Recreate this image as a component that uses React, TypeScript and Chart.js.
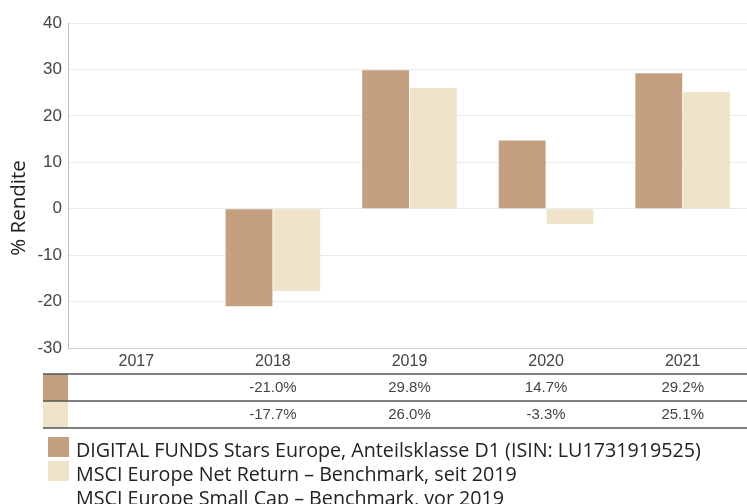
import React, { useEffect, useRef } from "react";
import { Chart, registerables } from "chart.js";

Chart.register(...registerables);

const categories = ["2017", "2018", "2019", "2020", "2021"];
const fundValues: (number | null)[] = [null, -21.0, 29.8, 14.7, 29.2];
const benchValues: (number | null)[] = [null, -17.7, 26.0, -3.3, 25.1];
const fundLabels = ["", "-21.0%", "29.8%", "14.7%", "29.2%"];
const benchLabels = ["", "-17.7%", "26.0%", "-3.3%", "25.1%"];
const yTicks = [40, 30, 20, 10, 0, -10, -20, -30];
const legendLines = [
  "DIGITAL FUNDS Stars Europe, Anteilsklasse D1 (ISIN: LU1731919525)",
  "MSCI Europe Net Return – Benchmark, seit 2019",
  "MSCI Europe Small Cap – Benchmark, vor 2019",
];
const yTitle = "% Rendite";

const FUND_COLOR = "#c4a080";
const BENCH_COLOR = "#efe3c9";

export default function App() {
  const ref = useRef<HTMLCanvasElement>(null);
  useEffect(() => {
    if (!ref.current) return;
    const extras = {
      id: "extras",
      afterDraw(chart: any) {
        const ctx = chart.ctx;
        const xs = chart.scales.x;
        ctx.save();
        // y title
        ctx.fillStyle = "#222";
        ctx.font = "20.5px 'Open Sans'";
        ctx.textAlign = "center";
        ctx.textBaseline = "alphabetic";
        ctx.translate(25, 208);
        ctx.rotate(-Math.PI / 2);
        ctx.fillText(yTitle, 0, 0);
        ctx.restore();

        ctx.save();
        // table
        const left = 43;
        const right = 751;
        const lines = [374, 401, 428];
        ctx.fillStyle = FUND_COLOR;
        ctx.fillRect(left, lines[0], 25, lines[1] - lines[0]);
        ctx.fillStyle = BENCH_COLOR;
        ctx.fillRect(left, lines[1], 25, lines[2] - lines[1]);
        ctx.strokeStyle = "#555";
        ctx.lineWidth = 1.6;
        for (const y of lines) {
          ctx.beginPath();
          ctx.moveTo(left, y);
          ctx.lineTo(right, y);
          ctx.stroke();
        }
        ctx.fillStyle = "#444";
        ctx.font = "15px 'Liberation Sans', Arial";
        ctx.textAlign = "center";
        ctx.textBaseline = "middle";
        categories.forEach((_, i) => {
          const x = xs.getPixelForValue(i);
          ctx.fillText(fundLabels[i], x, 388);
          ctx.fillText(benchLabels[i], x, 415);
        });

        // legend
        ctx.fillStyle = FUND_COLOR;
        ctx.fillRect(48, 437, 21, 20);
        ctx.fillStyle = BENCH_COLOR;
        ctx.fillRect(48, 461, 21, 20);
        ctx.fillStyle = "#222";
        ctx.font = "19.7px 'Open Sans'";
        ctx.textAlign = "left";
        ctx.textBaseline = "alphabetic";
        ctx.fillText(legendLines[0], 76, 457);
        ctx.fillText(legendLines[1], 76, 481);
        ctx.fillText(legendLines[2], 76, 504.5);
        ctx.restore();
      },
    };
    const chart = new Chart(ref.current, {
      type: "bar",
      data: {
        labels: categories,
        datasets: [
          {
            label: legendLines[0],
            data: fundValues,
            backgroundColor: FUND_COLOR,
            categoryPercentage: 0.7,
            barPercentage: 0.98,
          },
          {
            label: legendLines[1],
            data: benchValues,
            backgroundColor: BENCH_COLOR,
            categoryPercentage: 0.7,
            barPercentage: 0.98,
          },
        ],
      },
      options: {
        responsive: false,
        animation: false,
        layout: { padding: { top: 23, right: 0, bottom: 130, left: 0 } },
        plugins: { legend: { display: false }, tooltip: { enabled: false } },
        scales: {
          x: {
            grid: { display: false, drawTicks: false },
            border: { display: true, color: "#cfcfcf", width: 1 },
            ticks: {
              color: "#444",
              font: { family: "'Liberation Sans', Arial", size: 16 },
              padding: 4,
              maxRotation: 0,
            },
            afterFit: (s: any) => {
              s.height = 26;
            },
          },
          y: {
            min: -30,
            max: 40,
            afterBuildTicks: (s: any) => {
              s.ticks = yTicks.map((v) => ({ value: v }));
            },
            grid: { color: "#ebebeb", drawTicks: false, lineWidth: 1 },
            border: { display: true, color: "#bbbbbb", width: 1 },
            ticks: {
              color: "#444",
              font: { family: "'Liberation Sans', Arial", size: 17 },
              padding: 6,
            },
            afterFit: (s: any) => {
              s.width = 68;
            },
          },
        },
      },
      plugins: [extras],
    });
    return () => chart.destroy();
  }, []);
  return (
    <div style={{ position: "fixed", left: 0, top: 0, width: 747, height: 504, overflow: "hidden", background: "#fff" }}>
      <canvas ref={ref} width={751} height={504} />
    </div>
  );
}
